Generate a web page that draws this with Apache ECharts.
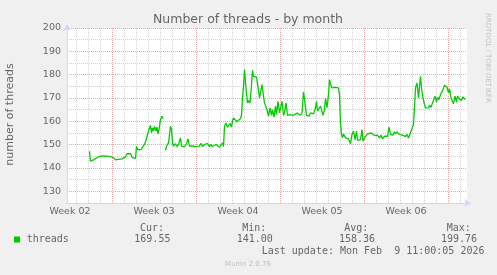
<!DOCTYPE html>
<html><head><meta charset="utf-8">
<script src="https://cdn.jsdelivr.net/npm/echarts@6/dist/echarts.min.js"></script>
<style>html,body{margin:0;padding:0;background:#f0f0f0;}#c{width:497px;height:275px;}</style>
</head><body><div id="c"></div>
<script>
// time in hours since the start of the 800-hour window, values = threads
const hoursA = [45,47,49,51,53,57,60,63,67,70,73,77,80,83,87,90,93,97,100,103,107,110,113,117,120,123,127,130,133,137,139,141,145,148,151,155,158,161,163,167,169,171,173,175,178,180,182,184,187,190,192];
const threadsA = [147.2,142.9,143.7,142.5,143.5,143.2,144.4,143.9,145.1,144.4,145.2,144.6,145.1,144.4,144.9,144.1,144.4,143.5,143.2,143.7,143.4,143.9,143.7,144.8,146.1,145.6,146.2,144.6,144.4,144.1,149.4,147.9,148.4,147.9,148.6,150.1,151.8,154.4,155.8,158.3,155.1,157.2,155.8,157.8,155.8,157.5,154.6,156.5,160.8,162.2,161.2];
const hoursB = [197,200,203,207,209,211,213,217,220,223,227,229,232,235,239,242,245,248,251,255,258,261,265,268,271,275,278,281,285,288,291,295,298,301,305,308,311,313,315,318,321,323,326,329,331,333,337,340,343,347,349,351,353,355,358,361,363,366,369,371,373,377,379,382,385,387,390,393,395,398,401,403,406,409,411,414,417,419,422,425,427,430,433,435,438,441,443,447,450,453,457,460,463,467,470,473,476,479,481,484,487,490,493,497,499,501,504,507,509,512,515,517,520,523,525,527,530,533,537,540,543,545];
const threadsB = [147.6,149.8,150.8,157.9,156.5,150.8,149.4,150.4,149.2,150.1,152.9,149.4,150.1,149.1,150.4,152.5,149.4,149.8,149.5,150.1,149.2,149.9,149.4,150.6,149.2,150.1,149.6,150.5,149.2,150.1,149.2,149.8,150.1,149.4,148.9,149.8,150.8,149.2,157.9,159.3,157.5,158.2,159.1,157.5,160.1,161.5,160.8,159.8,160.3,161.2,162.6,170.0,175.0,182.2,174.3,167.9,168.9,167.9,175.7,181.9,179.3,180.0,178.9,175.0,170.0,170.8,175.7,170.8,167.9,167.9,164.3,162.2,165.8,162.6,165.0,161.8,166.5,162.9,168.6,163.6,164.3,168.6,162.6,163.6,167.9,162.6,163.2,162.9,163.6,162.6,163.2,163.5,163.2,162.6,163.6,172.6,167.9,162.6,163.2,162.2,163.6,162.9,163.2,165.8,168.6,164.3,165.5,166.5,165.0,162.6,165.0,169.8,165.8,171.5,177.9,176.0,174.3,175.0,174.6,175.3,174.3,171.5];
const hoursC = [547,549,551,553,557,560,563,567,570,573,576,579,581,584,587,590,592,595,598,601,605,608,611,615,618,621,625,628,631,635,638,641,644,647,649,652,655,657,660,663,667,670,673,677,680,683,687,690,693,697,700,703,707,709,712,715,717,720,723,725,728,731,733,736,739,741,744,747,749,752,755,757,760,763,765,768,771,773,776,779,781,784,787,789,792,795,797];
const threadsC = [159.3,154.4,152.9,154.6,152.9,153.6,152.5,150.4,154.4,155.8,152.2,155.8,151.8,151.5,152.2,156.5,151.5,152.9,153.6,154.6,154.1,155.1,154.4,153.9,154.4,154.1,152.9,154.1,152.5,153.6,152.9,153.6,157.5,154.4,155.1,154.1,155.5,154.6,155.5,154.6,155.1,154.1,154.6,153.5,154.4,152.9,155.1,154.4,158.6,174.3,176.5,170.0,179.3,174.3,170.0,167.2,165.8,166.5,165.8,166.9,166.0,167.9,168.6,170.8,168.3,170.3,169.3,171.5,171.8,173.6,175.5,175.7,174.6,172.2,173.9,170.0,169.3,167.5,170.8,168.3,170.8,169.8,170.0,168.9,170.5,169.5,169.8];

const weekLabels = ['Week 02','Week 03','Week 04','Week 05','Week 06'];
const legendHeads = ['Cur:','Min:','Avg:','Max:'];
const legendValues = ['169.55','141.00','158.36','199.76'];
const seriesName = 'threads';
const lastUpdate = 'Last update: Mon Feb  9 11:00:05 2026';

const windowHours = 800;     // width of the time window
const firstDayLine = 18;     // hour of first midnight in window
const firstWeekLine = 90;    // hour of first week boundary
const firstWeekLabel = 6;    // hour of middle of first week
const yMin = 125, yMax = 200;

const gridRed = '#eda6a6', gridGray = '#cfcfcf', axisColor = '#cfd6f8', fontColor = '#666';
const sans = '"DejaVu Sans"', mono = '"DejaVu Sans Mono"';

const pairs = (h, v) => h.map((x, i) => [x, v[i]]);
const seg1 = pairs(hoursA, threadsA);
const seg2 = pairs(hoursB, threadsB).concat(pairs(hoursC, threadsC));

const hidden = {axisLine:{show:false}, axisTick:{show:false}, axisLabel:{show:false}};
const chart = echarts.init(document.getElementById('c'), null, {renderer:'canvas', width:497, height:275});
const lineSeries = d => ({type:'line', data:d, xAxisIndex:0, yAxisIndex:0, showSymbol:false, symbol:'none',
  lineStyle:{color:'#00cc00', width:1.3}, animation:false, silent:true, z:5});

const legendX = [140, 242.3, 344.3, 446.7];
const valueX = [134.3, 236.7, 339, 441];
const graphics = [
  {type:'text', x:248, y:19.5, style:{text:'Number of threads - by month', font:'12.5px '+sans, fill:fontColor, align:'center', verticalAlign:'middle'}},
  {type:'text', x:10.5, y:114.5, rotation:Math.PI/2, style:{text:'number of threads', font:'11px '+sans, fill:fontColor, align:'center', verticalAlign:'middle'}},
  {type:'text', x:487.5, y:58, rotation:-Math.PI/2, style:{text:'RRDTOOL / TOBI OETIKER', font:'7px '+sans, fill:'#c4c4c4', align:'center', verticalAlign:'middle'}},
  {type:'rect', shape:{x:14, y:236.5, width:6, height:6}, style:{fill:'#00cc00'}},
  {type:'text', x:26.7, y:239.5, style:{text:seriesName, font:'10px '+mono, fill:fontColor, align:'left', verticalAlign:'middle'}},
  {type:'text', x:261.7, y:251.5, style:{text:lastUpdate, font:'10px '+mono, fill:fontColor, align:'left', verticalAlign:'middle'}},
  {type:'text', x:248, y:264, style:{text:'Munin 2.0.76', font:'7px '+sans, fill:'#c0c0c0', align:'center', verticalAlign:'middle'}}
];
legendHeads.forEach((t, i) => graphics.push({type:'text', x:legendX[i], y:228, style:{text:t, font:'10px '+mono, fill:fontColor, align:'left', verticalAlign:'middle'}}));
legendValues.forEach((t, i) => graphics.push({type:'text', x:valueX[i], y:239.5, style:{text:t, font:'10px '+mono, fill:fontColor, align:'left', verticalAlign:'middle'}}));

chart.setOption({
  animation:false,
  backgroundColor:'#f0f0f0',
  grid:{left:67, top:28, width:400, height:175, show:true, backgroundColor:'#ffffff', borderWidth:0, containLabel:false},
  xAxis:[
    {type:'value', min:0, max:windowHours, position:'bottom', z:4,
      axisLine:{show:true, onZero:false, lineStyle:{color:axisColor, width:1}, symbol:['none','arrow'], symbolSize:[6,7], symbolOffset:[0,4]},
      axisTick:{show:false}, axisLabel:{show:false}, splitLine:{show:false}},
    Object.assign({type:'value', position:'bottom', min:-firstDayLine/24, max:(windowHours-firstDayLine)/24, splitNumber:33,
      splitLine:{show:true, showMinLine:false, showMaxLine:false, lineStyle:{color:gridGray, type:[1,1], width:1}}}, hidden),
    Object.assign({type:'value', position:'bottom', min:-firstWeekLine/168, max:(windowHours-firstWeekLine)/168, splitNumber:5,
      splitLine:{show:true, showMinLine:false, showMaxLine:false, lineStyle:{color:gridRed, type:[1,1], width:1}}}, hidden),
    {type:'value', position:'bottom', min:-firstWeekLabel/168, max:(windowHours-firstWeekLabel)/168, splitNumber:5,
      axisLine:{show:false}, axisTick:{show:false}, splitLine:{show:false},
      axisLabel:{show:true, showMinLabel:false, showMaxLabel:false, margin:4, fontSize:9.5, fontFamily:sans, color:fontColor,
        formatter: v => (Math.abs(v - Math.round(v)) < 1e-6 && weekLabels[Math.round(v)]) ? weekLabels[Math.round(v)] : ''}}
  ],
  yAxis:[{type:'value', min:yMin, max:yMax, interval:5, z:4,
    axisLine:{show:true, onZero:false, lineStyle:{color:axisColor, width:1}, symbol:['none','arrow'], symbolSize:[6,7], symbolOffset:[0,4]},
    axisTick:{show:false},
    axisLabel:{margin:6, fontSize:9.5, fontFamily:sans, color:fontColor, formatter: v => (v % 10 === 0 ? String(v) : '')},
    splitLine:{show:true, showMinLine:true, lineStyle:{color:[gridGray, gridRed], type:[1,1], width:1}}}],
  series:[lineSeries(seg1), lineSeries(seg2)],
  graphic:graphics
});
</script></body></html>
